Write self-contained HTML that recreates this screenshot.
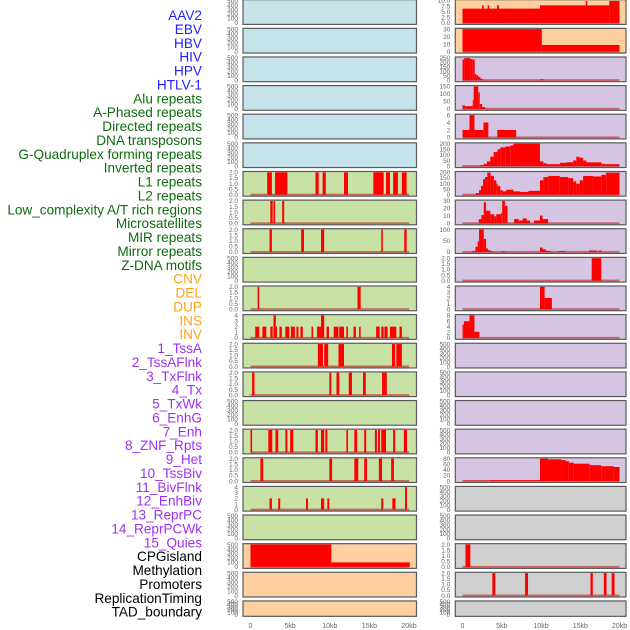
<!DOCTYPE html>
<html><head><meta charset="utf-8"><style>
html,body{margin:0;padding:0;background:#fff;width:630px;height:630px;overflow:hidden}
svg{display:block}
</style></head><body>
<svg id="chart" width="630" height="630" viewBox="0 0 630 630" xmlns="http://www.w3.org/2000/svg"></svg>
<script>
// ---- data (kb start, kb end, value) ----
const featureLabels = ["AAV2","EBV","HBV","HIV","HPV","HTLV-1","Alu repeats","A-Phased repeats","Directed repeats","DNA transposons","G-Quadruplex forming repeats","Inverted repeats","L1 repeats","L2 repeats","Low_complexity A/T rich regions","Microsatellites","MIR repeats","Mirror repeats","Z-DNA motifs","CNV","DEL","DUP","INS","INV","1_TssA","2_TssAFlnk","3_TxFlnk","4_Tx","5_TxWk","6_EnhG","7_Enh","8_ZNF_Rpts","9_Het","10_TssBiv","11_BivFlnk","12_EnhBiv","13_ReprPC","14_ReprPCWk","15_Quies","CPGisland","Methylation","Promoters","ReplicationTiming","TAD_boundary"];
const labelGroups = ["v","v","v","v","v","v","r","r","r","r","r","r","r","r","r","r","r","r","r","s","s","s","s","s","c","c","c","c","c","c","c","c","c","c","c","c","c","c","c","k","k","k","k","k"];
const xTickLabels = ["0","5kb","10kb","15kb","20kb"];
const xTickValues = [0,5,10,15,20];

const aL1 = [[2.1,2.7,2],[3.1,4.65,2],[8.2,8.6,2],[9.1,9.5,2],[11.8,12.3,2],[15.5,16.8,2],[17.1,17.6,2],[18.0,18.6,2],[19.1,19.7,2]];
const aL2 = [[2.5,2.8,2],[2.9,3.1,2],[4.0,4.25,2]];
const aMIR = [[2.4,2.7,2],[6.4,6.75,2],[8.9,9.3,2],[16.5,16.7,2],[19.4,19.7,2]];
const aDEL = [[0.9,1.1,2],[13.5,13.9,2]];
const aINS = [[0.6,1.1,2],[1.5,2.0,2],[2.5,2.8,2],[2.9,3.2,4],[3.2,3.35,2],[3.65,3.95,2],[4.4,4.9,2],[5.1,5.6,2],[5.8,6.05,2],[6.3,6.6,2],[7.7,7.9,2],[8.4,8.9,2],[8.9,9.3,4],[9.6,9.9,2],[10.5,11.1,2],[11.2,11.8,2],[12.1,12.3,2],[13.0,13.3,2],[13.7,13.9,2],[15.85,16.3,2],[16.5,16.8,2],[16.9,17.3,2],[17.6,18.4,2],[18.8,19.1,2]];
const aTssA = [[8.5,9.15,2],[9.3,9.8,2],[11.1,11.8,2],[17.85,18.25,2],[18.4,19.1,2]];
const aTssAFlnk = [[0.2,0.5,2],[9.95,10.2,2],[10.85,11.2,2],[12.4,12.8,2],[14.2,14.55,2],[16.6,17.2,2]];
const aTx = [[0,0.2,2],[2.25,2.75,2],[3.15,3.5,2],[4.4,4.65,2],[5.0,5.4,2],[8.2,8.5,2],[8.9,9.3,2],[9.45,9.7,2],[12.1,12.3,2],[13.1,13.45,2],[14.35,14.6,2],[15.7,15.95,2],[16.1,16.35,2],[16.5,17.1,2],[18.0,18.25,2],[19.35,19.75,2]];
const aTxWk = [[1.25,1.6,2],[9.95,10.3,2],[13.1,13.6,2],[14.35,14.7,2],[16.2,16.6,2],[17.75,18.1,2]];
const aEnh = [[2.4,2.7,2],[3.5,3.75,2],[7.0,7.25,2],[8.9,9.3,2],[9.7,9.95,2],[16.5,16.75,2],[17.9,18.3,2],[19.5,19.75,4]];
const aMeth = [[0,10.2,500],[10.2,20.1,100]];

const bAAV2 = [[0,9.87,6.5],[9.87,18.7,8],[18.7,20,10],[2.5,2.7,8],[3.2,3.4,8],[4.4,4.65,8],[15.7,15.9,10]];
const bEBV = [[0,10.1,34],[10.1,20,10]];
const bHIV = [[0,0.2,235],[0.2,1.0,250],[1.0,1.3,240],[1.3,1.56,235],[1.56,1.77,70],[1.77,2.03,55],[2.03,2.3,35],[2.3,2.6,15],[9.9,10.3,10]];
const bHPV = [[0,0.3,30],[0.3,1.1,22],[1.1,1.3,25],[1.3,1.43,75],[1.43,2.0,190],[2.0,2.2,140],[2.2,2.5,40],[2.5,2.9,15]];
const bAlu = [[0,0.89,2],[0.89,1.52,6],[1.52,2.66,2],[2.66,3.29,4],[4.43,6.84,2]];
const bAPhased = [[2.28,2.71,10],[2.71,3.12,25],[3.12,3.54,50],[3.54,3.97,100],[3.97,4.47,150],[4.47,4.81,180],[4.81,5.44,200],[5.44,6.08,210],[6.08,6.5,220],[6.5,9.87,240],[9.87,10.3,50],[10.3,10.7,30],[10.7,12.4,20],[12.4,13.25,35],[13.25,14.1,40],[14.1,14.5,60],[14.5,14.85,100],[14.85,15.36,90],[15.36,15.78,60],[15.78,17.68,40],[17.68,18.1,25],[18.1,20,20]];
const bDirected = [[1.69,2.1,15],[2.1,2.36,40],[2.36,2.62,80],[2.62,2.87,140],[2.87,3.16,160],[3.16,3.59,200],[3.59,4.0,170],[4.0,4.3,130],[4.3,4.47,100],[4.47,4.81,80],[4.81,5.15,40],[5.15,5.57,30],[5.57,6.5,45],[6.5,7.34,30],[7.34,8.4,25],[8.4,9.87,35],[9.87,10.3,130],[10.3,10.93,160],[10.93,12.4,170],[12.4,13.46,160],[13.46,14.1,150],[14.1,14.5,120],[14.5,14.93,100],[14.93,15.36,130],[15.36,16.62,170],[16.62,17.68,165],[17.68,18.3,180],[18.3,20,200]];
const bDNAtrans = [[2.07,2.41,6],[2.41,2.71,12],[2.71,3.0,30],[3.0,3.54,18],[3.54,4.05,13],[4.05,4.3,10],[4.3,4.93,13],[4.93,5.06,15],[5.06,5.4,32],[5.4,5.74,25],[6.58,7.17,6],[7.17,7.68,4],[7.68,8.18,7],[8.18,8.61,4],[9.11,9.87,4],[9.87,10.2,11],[10.2,10.9,6]];
const bGQuad = [[1.22,1.65,5],[1.65,1.94,30],[1.94,2.11,60],[2.11,2.71,128],[2.71,3.0,75],[3.0,3.25,20],[3.25,3.54,10],[3.54,3.88,4],[4.98,5.4,4],[9.87,10.2,25],[10.2,10.63,15],[10.63,11.22,6],[12.15,13.16,5],[16.1,17.17,8],[17.34,17.72,8]];
const bInverted = [[16.46,17.68,2]];
const bL1 = [[9.87,10.46,4],[10.46,11.39,2]];
const bL2 = [[0,0.17,5],[0.17,0.89,6.3],[0.89,1.52,8.5],[1.52,2.15,2.3]];
const bMirror = [[0,3.42,1],[3.42,9.87,3],[9.87,10.88,88],[10.88,12.62,85],[12.62,13.12,82],[13.12,13.54,78],[13.54,14.18,72],[14.18,16.2,68],[16.2,17.68,62],[17.68,19.28,58],[19.28,20,55]];
const bCNV = [[0.38,1.0,2]];
const bDEL = [[3.8,4.18,2],[7.97,8.35,2],[16.3,16.6,2],[18.0,18.35,2],[19.0,19.37,2]];

// ---- axis tick sets ----
const ticksEmpty = ["0","100","200","300","400","500"];
const ticks2 = ["0.0","0.5","1.0","1.5","2.0"];
const ticks4 = ["0","1","2","3","4"];
const ticksAAV2 = ["0.0","2.5","5.0","7.5","10.0"];
const ticksEBV = ["0","10","20","30"];
const ticksHIV = ["0","50","100","150","200","250"];
const ticksHPV = ["0","50","100","150"];
const ticks6 = ["0","2","4","6"];
const ticks200 = ["0","50","100","150","200"];
const ticks30 = ["0","10","20","30"];
const ticks100 = ["0","50","100"];
const ticks8 = ["0","2","4","6","8"];
const ticks80 = ["0","20","40","60","80"];

const C = {blue:"#c6e3eb",green:"#c8e1a5",peach:"#fecf9f",lav:"#d6c5e2",grey:"#d0d0d0"};
// [row, col, bg, ticks, ymax, data, name]
const panels = [
 [0,0,C.blue,ticksEmpty,500,null,"a-aav2"],[0,1,C.peach,ticksAAV2,10.2,bAAV2,"b-aav2"],
 [1,0,C.blue,ticksEmpty,500,null,"a-ebv"],[1,1,C.peach,ticksEBV,34,bEBV,"b-ebv"],
 [2,0,C.blue,ticksEmpty,500,null,"a-hbv"],[2,1,C.lav,ticksHIV,255,bHIV,"b-hbv"],
 [3,0,C.blue,ticksEmpty,500,null,"a-hiv"],[3,1,C.lav,ticksHPV,190,bHPV,"b-hiv"],
 [4,0,C.blue,ticksEmpty,500,null,"a-hpv"],[4,1,C.lav,ticks6,6,bAlu,"b-hpv"],
 [5,0,C.blue,ticksEmpty,500,null,"a-htlv"],[5,1,C.lav,ticks200,240,bAPhased,"b-htlv"],
 [6,0,C.green,ticks2,2,aL1,"a-r6"],[6,1,C.lav,ticks200,203,bDirected,"b-r6"],
 [7,0,C.green,ticks2,2,aL2,"a-r7"],[7,1,C.lav,ticks30,32,bDNAtrans,"b-r7"],
 [8,0,C.green,ticks2,2,aMIR,"a-r8"],[8,1,C.lav,ticks100,128,bGQuad,"b-r8"],
 [9,0,C.green,ticksEmpty,500,null,"a-r9"],[9,1,C.lav,ticks2,2,bInverted,"b-r9"],
 [10,0,C.green,ticks2,2,aDEL,"a-r10"],[10,1,C.lav,ticks4,4,bL1,"b-r10"],
 [11,0,C.green,ticks4,4,aINS,"a-r11"],[11,1,C.lav,ticks8,8.5,bL2,"b-r11"],
 [12,0,C.green,ticks2,2,aTssA,"a-r12"],[12,1,C.lav,ticksEmpty,500,null,"b-r12"],
 [13,0,C.green,ticks2,2,aTssAFlnk,"a-r13"],[13,1,C.lav,ticksEmpty,500,null,"b-r13"],
 [14,0,C.green,ticksEmpty,500,null,"a-r14"],[14,1,C.lav,ticksEmpty,500,null,"b-r14"],
 [15,0,C.green,ticks2,2,aTx,"a-r15"],[15,1,C.lav,ticksEmpty,500,null,"b-r15"],
 [16,0,C.green,ticks2,2,aTxWk,"a-r16"],[16,1,C.lav,ticks80,88,bMirror,"b-r16"],
 [17,0,C.green,ticks4,4,aEnh,"a-r17"],[17,1,C.grey,ticksEmpty,500,null,"b-r17"],
 [18,0,C.green,ticksEmpty,500,null,"a-r18"],[18,1,C.grey,ticksEmpty,500,null,"b-r18"],
 [19,0,C.peach,ticksEmpty,500,aMeth,"a-methylation"],[19,1,C.grey,ticks2,2,bCNV,"b-r19"],
 [20,0,C.peach,ticksEmpty,500,null,"a-r20"],[20,1,C.grey,ticks2,2,bDEL,"b-r20"],
 [21,0,C.peach,ticksEmpty,500,null,"a-r21"],[21,1,C.grey,ticksEmpty,500,null,"b-r21"]
];

const NS="http://www.w3.org/2000/svg";
const svg=document.getElementById("chart");
function mk(tag,attrs,parent){const e=document.createElementNS(NS,tag);for(const k in attrs)e.setAttribute(k,attrs[k]);(parent||svg).appendChild(e);return e;}
const colGeom=[{left:243,right:416.5,x0:250.5,x20:409},{left:455.3,right:626,x0:462.5,x20:619.5}];
function xScale(col,kb){const g=colGeom[col];return g.x0+(g.x20-g.x0)*kb/20;}
function rowTop(r){return r*28.63-0.3;}
function rowH(r){return r===21?15.4:24.7;}

// left labels
const groupColor={v:"#1f1fff",r:"#0f6b0f",s:"#ffa31a",c:"#a030f0",k:"#000"};
featureLabels.forEach((t,i)=>{
  const cy=15+i*(596.7/43);
  const e=mk("text",{x:202,y:(cy+5).toFixed(1),"text-anchor":"end","font-family":"Liberation Sans, sans-serif","font-size":"13.6",fill:groupColor[labelGroups[i]]});
  e.textContent=t;
  
  
});

panels.forEach(p=>{
  const [r,col,bg,ticks,ymax,data,name]=p;
  const g=colGeom[col];const top=rowTop(r);const h=rowH(r);const bot=top+h;
  const grp=mk("g",{});
  
  
  const bgRect=mk("rect",{x:g.left,y:top,width:g.right-g.left,height:h,fill:bg},grp);
  
  
  const y0=bot-1.5, y1=top+0.8;
  const yS=v=>y0-(y0-y1)*v/ymax;
  if(data){
    const base=mk("rect",{x:xScale(col,0),y:y0-1,width:xScale(col,20)-xScale(col,0),height:2,fill:"rgba(190,20,20,0.55)"},grp);
    
    
    data.forEach(d=>{
      const xa=xScale(col,d[0]),xb=xScale(col,d[1]);const yv=Math.max(yS(d[2]),top+0.5);
      const b=mk("rect",{x:xa.toFixed(2),y:yv.toFixed(2),width:Math.max(xb-xa,1).toFixed(2),height:(y0-yv).toFixed(2),fill:"#ff0000"},grp);
      
      
    });
  }
  const fr=mk("rect",{x:g.left,y:top,width:g.right-g.left,height:h,fill:"none",stroke:"#5a5a5a","stroke-width":1.2},grp);
  
  
  // y ticks
  const n=ticks.length;
  ticks.forEach((t,i)=>{
    const ty=y0-(y0-y1)*i/(n-1);
    const tx=mk("text",{x:g.left-5,y:(ty+2.3).toFixed(1),"text-anchor":"end","font-family":"Liberation Sans, sans-serif","font-size":"6.5",fill:"#666"},grp);
    tx.textContent=t;
    
    
  });
});

// x axis labels
[0,1].forEach(col=>{
  xTickValues.forEach((v,i)=>{
    const e=mk("text",{x:xScale(col,v).toFixed(1),y:628,"text-anchor":"middle","font-family":"Liberation Sans, sans-serif","font-size":"7",fill:"#666"});
    e.textContent=xTickLabels[i];
    
    
  });
});
</script>
</body></html>
